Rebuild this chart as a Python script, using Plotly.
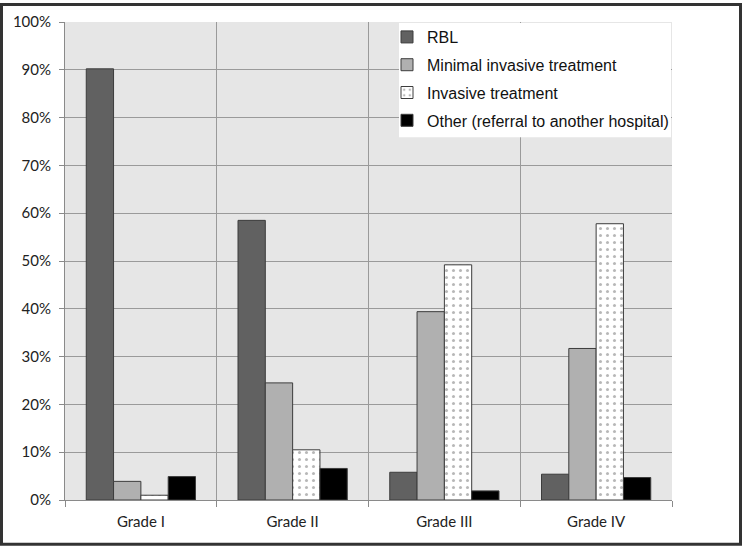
import plotly.graph_objects as go

categories = ["Grade I", "Grade II", "Grade III", "Grade IV"]
rbl = [90.2, 58.5, 5.8, 5.4]
minimal_invasive = [3.9, 24.5, 39.4, 31.7]
invasive = [1.0, 10.5, 49.2, 57.8]
other = [4.9, 6.6, 1.9, 4.7]
y_ticks = [0, 10, 20, 30, 40, 50, 60, 70, 80, 90, 100]
y_tick_labels = [f"{v}%" for v in y_ticks]

W, H = 742, 546
L, R, T, B = 65, 70, 19, 46
PW, PH = W - L - R, H - T - B


def px_x(x):
    return (x - L) / PW


def px_y(y):
    return 1 - (y - T) / PH


fig = go.Figure()
line = dict(color="#3c3c3c", width=1)
fig.add_trace(go.Bar(x=categories, y=rbl, name="RBL",
                     marker=dict(color="#616161", line=line), legendgroup="a"))
fig.add_trace(go.Bar(x=categories, y=minimal_invasive, name="Minimal invasive treatment",
                     marker=dict(color="#b0b0b0", line=line), legendgroup="b"))
fig.add_trace(go.Bar(x=categories, y=invasive, name="Invasive treatment",
                     marker=dict(color="white", line=line,
                                 pattern=dict(shape=".", fgcolor="#707070", bgcolor="white",
                                              size=7, solidity=0.15)), legendgroup="c"))
fig.add_trace(go.Bar(x=categories, y=other, name="Other (referral to another hospital)",
                     marker=dict(color="black", line=line), legendgroup="d"))

fig.update_layout(
    width=W, height=H,
    margin=dict(l=L, r=R, t=T, b=B),
    paper_bgcolor="white", plot_bgcolor="#e6e6e6",
    barmode="group", bargap=0.28, bargroupgap=0,
    showlegend=True,
    legend=dict(x=px_x(387), y=px_y(17), xanchor="left", yanchor="top",
                bgcolor="rgba(0,0,0,0)", borderwidth=0, tracegroupgap=4,
                font=dict(family="Liberation Sans, Arial", size=16, color="#111"),
                itemwidth=30),
    font=dict(family="Lato, Open Sans", size=15, color="#222"),
    xaxis=dict(type="category", tickson="boundaries", ticks="outside", ticklen=6,
               tickcolor="#8a8a8a", showgrid=True, gridcolor="#9a9a9a", gridwidth=1,
               showline=True, linecolor="#8a8a8a", linewidth=1, ticklabelstandoff=8,
               tickfont=dict(family="Lato, Open Sans", size=15, color="#222")),
    yaxis=dict(range=[0, 100], tickvals=y_ticks, ticktext=y_tick_labels,
               ticks="outside", ticklen=5, tickcolor="#8a8a8a", ticklabelstandoff=5,
               showgrid=True, gridcolor="#9a9a9a", gridwidth=1,
               showline=True, linecolor="#8a8a8a", linewidth=1, zeroline=False,
               tickfont=dict(family="Lato, Open Sans", size=15, color="#222")),
    shapes=[
        dict(type="rect", xref="paper", yref="paper", layer="above",
             x0=px_x(399), x1=px_x(671), y0=px_y(135), y1=px_y(20),
             fillcolor="white", line=dict(width=0)),
        dict(type="rect", xref="paper", yref="paper", layer="above",
             x0=px_x(1.5), x1=px_x(W - 1.5), y0=px_y(H - 1.5), y1=px_y(1.5),
             line=dict(color="#333", width=3)),
    ],
)

fig.write_html("out.html", post_script="document.body.style.margin='0';",
               config={"displayModeBar": False})
